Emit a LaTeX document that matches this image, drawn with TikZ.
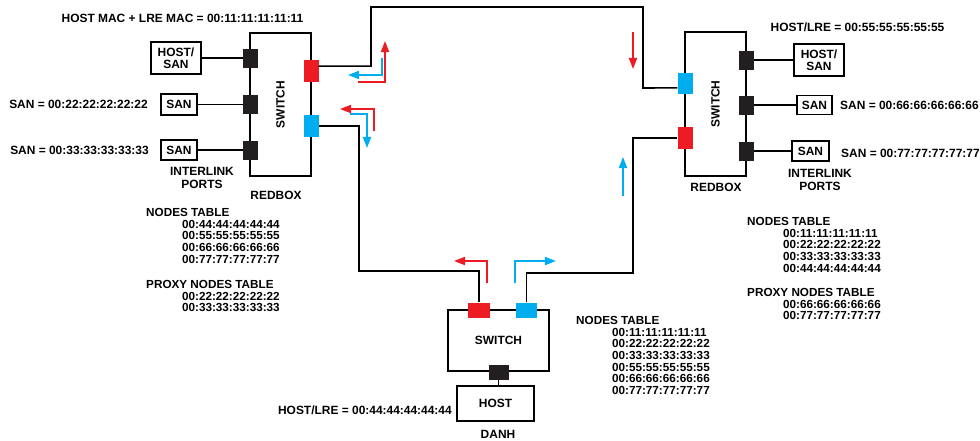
\documentclass[tikz,border=0pt]{standalone}
\usepackage{fontspec}
\setmainfont{Liberation Sans}
\usetikzlibrary{positioning,arrows.meta}
\definecolor{PortRed}{RGB}{237,28,36}
\definecolor{PortBlue}{RGB}{0,174,239}
\definecolor{PortBlack}{RGB}{35,31,32}
\newcommand{\tabind}{\hspace*{30.6pt}}
\tikzset{
  swbox/.style={draw, line width=1.3pt, inner sep=0pt},
  devbox/.style={draw, line width=1.3pt, fill=white, inner sep=0pt, align=center,
                 font=\bfseries\fontsize{10.2}{10.5}\selectfont},
  blkport/.style={draw=PortBlack, fill=PortBlack, inner sep=0pt},
  redport/.style={fill=PortRed, inner sep=0pt},
  blueport/.style={fill=PortBlue, inner sep=0pt},
  lbl/.style={inner sep=0pt, align=center, font=\bfseries\fontsize{10.2}{10.5}\selectfont},
  tbl/.style={inner sep=0pt, anchor=north west, align=left, font=\bfseries\fontsize{10}{9.95}\selectfont},
  wire/.style={line width=1.3pt},
  flowr/.style={PortRed, line width=1.3pt, -{Triangle[length=9.5pt,width=7pt]}},
  flowb/.style={PortBlue, line width=1.3pt, -{Triangle[length=9.5pt,width=7pt]}},
}
\begin{document}
\begin{tikzpicture}[x=0.03cm, y=-0.03cm]
    \useasboundingbox (0,0) rectangle (980,440);

    % Left RedBox
    \node[swbox, minimum width=1.83cm, minimum height=4.29cm] (swL) at (280.5,104.5) {};
    \node[lbl, rotate=90] (swLtxt) at (swL) {SWITCH};
    \node[devbox, minimum width=1.5cm, minimum height=0.96cm] (hsL) at (176,58) {HOST/\\SAN};
    \node[devbox, minimum width=1.08cm, minimum height=0.63cm] (sanL2) at (179,104.5) {SAN};
    \node[devbox, minimum width=1.08cm, minimum height=0.6cm] (sanL3) at (179,150) {SAN};
    \draw[wire] (hsL.east) -- (250,58);
    \draw[wire] (sanL2.east) -- (250,104.5);
    \draw[wire] (sanL3.east) -- (250,150);
    \node[blkport, minimum width=0.42cm, minimum height=0.54cm] (pL1) at (250,58) {};
    \node[blkport, minimum width=0.42cm, minimum height=0.54cm] (pL2) at (250,104.5) {};
    \node[blkport, minimum width=0.42cm, minimum height=0.54cm] (pL3) at (250,150) {};
    \node[redport, minimum width=0.45cm, minimum height=0.66cm] (pLred) at (311,71) {};
    \node[blueport, minimum width=0.45cm, minimum height=0.66cm] (pLblue) at (311,126) {};
    \node[lbl] (macL) at (182.5,18) {HOST MAC + LRE MAC = 00:11:11:11:11:11};
    \node[lbl, anchor=east] (sanL2txt) at (148,104.5) {SAN = 00:22:22:22:22:22};
    \node[lbl, anchor=east] (sanL3txt) at (149,150) {SAN = 00:33:33:33:33:33};
    \node[lbl] (ilL) at (202,178) {INTERLINK\\PORTS};
    \node[lbl] (rbL) at (276,195) {REDBOX};

    % Right RedBox
    \node[swbox, minimum width=1.83cm, minimum height=4.32cm] (swR) at (715.5,104) {};
    \node[lbl, rotate=90] (swRtxt) at (swR) {SWITCH};
    \node[devbox, minimum width=1.5cm, minimum height=0.96cm] (hsR) at (819,60) {HOST/\\SAN};
    \node[devbox, minimum width=1.05cm, minimum height=0.57cm] (sanR2) at (814.5,105) {SAN};
    \node[devbox, minimum width=1.11cm, minimum height=0.6cm] (sanR3) at (810.5,151) {SAN};
    \draw[wire] (746,60) -- (hsR.west);
    \draw[wire] (746,105) -- (sanR2.west);
    \draw[wire] (746,151) -- (sanR3.west);
    \node[blkport, minimum width=0.42cm, minimum height=0.54cm] (pR1) at (746,60) {};
    \node[blkport, minimum width=0.42cm, minimum height=0.54cm] (pR2) at (746,105) {};
    \node[blkport, minimum width=0.42cm, minimum height=0.54cm] (pR3) at (746,151) {};
    \node[blueport, minimum width=0.45cm, minimum height=0.63cm] (pRblue) at (685,83.5) {};
    \node[redport, minimum width=0.45cm, minimum height=0.66cm] (pRred) at (685,138) {};
    \node[lbl] (macR) at (857.5,27) {HOST/LRE = 00:55:55:55:55:55};
    \node[lbl, anchor=west] (sanR2txt) at (840,105) {SAN = 00:66:66:66:66:66};
    \node[lbl, anchor=west] (sanR3txt) at (841,153) {SAN = 00:77:77:77:77:77};
    \node[lbl] (ilR) at (820,180) {INTERLINK\\PORTS};
    \node[lbl] (rbR) at (716,187) {REDBOX};

    % DANH
    \node[swbox, minimum width=3.03cm, minimum height=1.83cm] (swD) at (498.5,340.5) {};
    \node[lbl] (swDtxt) at (swD) {SWITCH};
    \node[devbox, minimum width=2.31cm, minimum height=1.05cm] (host) at (495.5,403.5) {HOST};
    \draw[wire] (498.5,372) -- (498.5,386);
    \node[blkport, minimum width=0.57cm, minimum height=0.42cm] (pDh) at (498.5,372) {};
    \node[redport, minimum width=0.66cm, minimum height=0.45cm] (pDred) at (479,310) {};
    \node[blueport, minimum width=0.63cm, minimum height=0.45cm] (pDblue) at (526.5,310) {};
    \node[lbl, anchor=east] (hostDtxt) at (452,410) {HOST/LRE = 00:44:44:44:44:44};
    \node[lbl] (danh) at (498,434) {DANH};

    % Ring
    \draw[wire] ([yshift=4.25pt]pLred.east) -| (371,7) -| (643,88) -- ([yshift=-3.8pt]pRblue.west);
    \draw[wire] (pLblue.east) -| (359,271) -| (pDred.north);
    \draw[wire] (pDblue.north) |- (633,273) |- (pRred.west);

    % Frame flow
    \draw[flowr] (358,82) -- (385,82) -- (385,41);
    \draw[flowb] (382,58) -- (382,75) -- (348,75);
    \draw[flowr] (374,131) -- (374,109) -- (340,109);
    \draw[flowb] (350,114) -- (367,114) -- (367,148);
    \draw[flowr] (633,32) -- (633,69);
    \draw[flowb] (623,196) -- (623,157);
    \draw[flowr] (487,283) -- (487,261) -- (454,261);
    \draw[flowb] (515,283) -- (515,261) -- (556,261);

    % Tables
    \node[tbl] (tabL) at (146,208) {NODES TABLE\\\tabind 00:44:44:44:44:44\\\tabind 00:55:55:55:55:55\\\tabind 00:66:66:66:66:66\\\tabind 00:77:77:77:77:77};
    \node[tbl] (prxL) at (146,280) {PROXY NODES TABLE\\\tabind 00:22:22:22:22:22\\\tabind 00:33:33:33:33:33};
    \node[tbl] (tabR) at (747,217) {NODES TABLE\\\tabind 00:11:11:11:11:11\\\tabind 00:22:22:22:22:22\\\tabind 00:33:33:33:33:33\\\tabind 00:44:44:44:44:44};
    \node[tbl] (prxR) at (747,288) {PROXY NODES TABLE\\\tabind 00:66:66:66:66:66\\\tabind 00:77:77:77:77:77};
    \node[tbl] (tabD) at (576,316) {NODES TABLE\\\tabind 00:11:11:11:11:11\\\tabind 00:22:22:22:22:22\\\tabind 00:33:33:33:33:33\\\tabind 00:55:55:55:55:55\\\tabind 00:66:66:66:66:66\\\tabind 00:77:77:77:77:77};

\end{tikzpicture}
\end{document}
